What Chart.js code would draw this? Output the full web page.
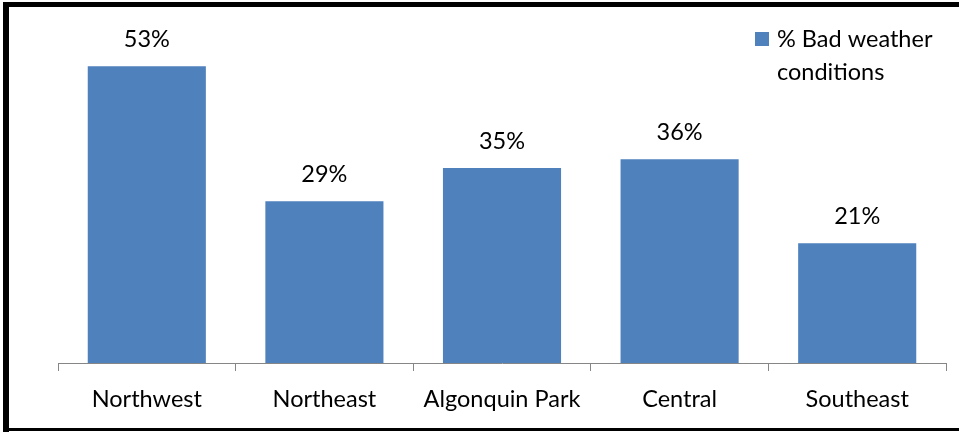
<!DOCTYPE html>
<html>
<head>
<meta charset="utf-8">
<script src="https://cdn.jsdelivr.net/npm/chart.js@4/dist/chart.umd.min.js"></script>
<style>
  html, body { margin: 0; padding: 0; background: #fff; }
  #wrap { position: relative; width: 959px; height: 432px; }
</style>
</head>
<body>
<div id="wrap"><canvas id="chart1" width="959" height="432"></canvas></div>
<script>
// chart data
const regions = ['Northwest', 'Northeast', 'Algonquin Park', 'Central', 'Southeast'];
const badWeather = [53, 28.9, 34.8, 36.4, 21.4];
const seriesName = ['% Bad weather', 'conditions'];

const FONT = "Lato, 'Open Sans', sans-serif";
const FONT_SIZE = 23.5;

// black frame around the picture (no right side, it is cut off)
const framePlugin = {
    id: 'frame',
    afterDraw(chart) {
        const ctx = chart.ctx;
        ctx.save();
        ctx.fillStyle = '#000';
        ctx.fillRect(3, 2, 959, 5);
        ctx.fillRect(3, 2, 6, 430);
        ctx.fillRect(3, 428, 959, 3);
        ctx.restore();
    }
};

// value labels over the bars
const valueLabels = {
    id: 'valueLabels',
    afterDatasetsDraw(chart) {
        const ctx = chart.ctx;
        const meta = chart.getDatasetMeta(0);
        ctx.save();
        ctx.font = FONT_SIZE + 'px ' + FONT;
        ctx.fillStyle = '#000';
        ctx.textAlign = 'center';
        ctx.textBaseline = 'alphabetic';
        meta.data.forEach(function (bar, i) {
            ctx.fillText(Math.round(badWeather[i]) + '%', bar.x, bar.y - 19);
        });
        ctx.restore();
    }
};

// legend in the top right corner, text on two lines
const sideLegend = {
    id: 'sideLegend',
    afterDraw(chart) {
        const ctx = chart.ctx;
        const ds = chart.data.datasets[0];
        ctx.save();
        ctx.fillStyle = ds.backgroundColor;
        ctx.fillRect(755, 32, 14, 14);
        ctx.fillStyle = '#000';
        ctx.font = FONT_SIZE + 'px ' + FONT;
        ctx.textAlign = 'left';
        ctx.textBaseline = 'alphabetic';
        seriesName.forEach(function (line, i) {
            ctx.fillText(line, 777, 47 + i * 33);
        });
        ctx.restore();
    }
};

function initializeChart() {
    const ctx = document.getElementById('chart1').getContext('2d');
    new Chart(ctx, {
        type: 'bar',
        data: {
            labels: regions,
            datasets: [{
                label: seriesName.join(' '),
                data: badWeather,
                backgroundColor: '#4F81BD',
                categoryPercentage: 1,
                barPercentage: 0.665
            }]
        },
        options: {
            responsive: false,
            animation: false,
            layout: { padding: { left: 58, right: 13, top: 27, bottom: 0 } },
            plugins: {
                legend: { display: false },
                tooltip: { enabled: false }
            },
            scales: {
                x: {
                    grid: {
                        offset: true,
                        drawOnChartArea: false,
                        drawTicks: true,
                        tickLength: 8,
                        color: '#868686'
                    },
                    border: { display: true, color: '#868686', width: 1 },
                    ticks: {
                        color: '#000',
                        font: { family: FONT, size: FONT_SIZE },
                        padding: 14,
                        maxRotation: 0
                    },
                    afterFit(scale) { scale.height = 69; }
                },
                y: {
                    display: false,
                    min: 0,
                    max: 60
                }
            }
        },
        plugins: [valueLabels, sideLegend, framePlugin]
    });
}

window.onload = initializeChart;
</script>
</body>
</html>
